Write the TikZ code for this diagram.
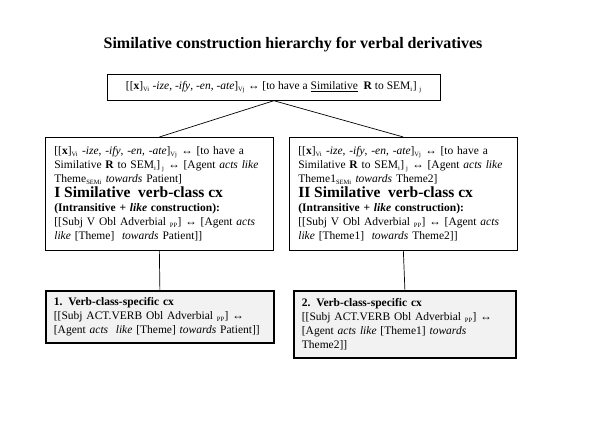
\documentclass[tikz,border=0pt]{standalone}
\usepackage{fontspec}
\setmainfont{Liberation Serif}
\definecolor{gray5}{RGB}{242,242,242}
\newcommand{\lowidx}[1]{\textsubscript{\fontsize{6.5}{6.5}\selectfont #1}}

\begin{document}
\begin{tikzpicture}[x=1pt, y=-1pt,
		cxbox/.style=		{draw=black, anchor=north west, align=left, inner xsep=9pt, inner ysep=3pt, line width=0.7pt, font=\fontsize{11.5}{14}\selectfont},
		topbox/.style=		{cxbox, align=center, inner xsep=4pt, minimum width=333pt, minimum height=26pt},
		classbox/.style=	{cxbox, text width=210pt, minimum height=113pt},
		specbox/.style=		{cxbox, fill=gray5, line width=1.8pt, inner xsep=8pt},
		link/.style=		{draw=black, line width=0.7pt}]
	\def\form{[[\textbf{x}]\lowidx{Vi} \textit{-ize}, \textit{-ify}, \textit{-en}, \textit{-ate}]\lowidx{Vj} ↔ [to have a}
	\def\heading#1{{\fontsize{15.5}{16}\selectfont\textbf{#1}}}
	\useasboundingbox (0,0) rectangle (616,424);

	\node[font=\fontsize{16}{18}\bfseries\selectfont] (title) at (293,45) {Similative construction hierarchy for verbal derivatives};
	\node[topbox] (top) at (107,74) {\form{} \underline{Similative}\ \ \textbf{R} to SEM\lowidx{i}]\ \lowidx{j}};

	\node[classbox] (simI) at (45,137) {\form\\
		Similative~\textbf{R} to SEM\lowidx{i}]\,\lowidx{j} ↔ [Agent \textit{acts~like}\\
		Theme\lowidx{SEMi} \textit{towards} Patient]\\[1pt]
		\heading{I Similative\ \ verb-class cx}\\
		\textbf{(Intransitive + \textit{like} construction):}\\
		{}[[Subj V Obl Adverbial \lowidx{PP}] ↔ [Agent \textit{acts}\\
		\textit{like} [Theme]\ \ \textit{towards} Patient]]};
	\node[classbox] (simII) at (289,137) {\form\\
		Similative~\textbf{R} to SEM\lowidx{i}]\,\lowidx{j} ↔ [Agent \textit{acts~like}\\
		Theme1\lowidx{SEMi} \textit{towards} Theme2]\\[1pt]
		\heading{II Similative\ \ verb-class cx}\\
		\textbf{(Intransitive + \textit{like} construction):}\\
		{}[[Subj V Obl Adverbial \lowidx{PP}] ↔ [Agent \textit{acts}\\
		\textit{like} [Theme1]\ \ \textit{towards} Theme2]]};

	\node[specbox, text width=212pt, minimum height=52pt] (cxI) at (45,290) {\textbf{1. Verb-class-specific cx}\\
		{}[[Subj ACT.VERB Obl Adverbial \lowidx{PP}] ↔\\
		{}[Agent \textit{acts\ \ like} [Theme] \textit{towards}~Patient]]};
	\node[specbox, text width=206pt, minimum height=67pt] (cxII) at (293,290) {\textbf{2. Verb-class-specific cx}\\
		{}[[Subj ACT.VERB Obl Adverbial \lowidx{PP}] ↔\\
		{}[Agent \textit{acts like} [Theme1] \textit{towards}\\
		Theme2]]};

	\foreach \source/\dest in {top/simI, top/simII, simI/cxI, simII/cxII}
		\draw[link] (\source.south) -- (\dest.north);
\end{tikzpicture}
\end{document}
